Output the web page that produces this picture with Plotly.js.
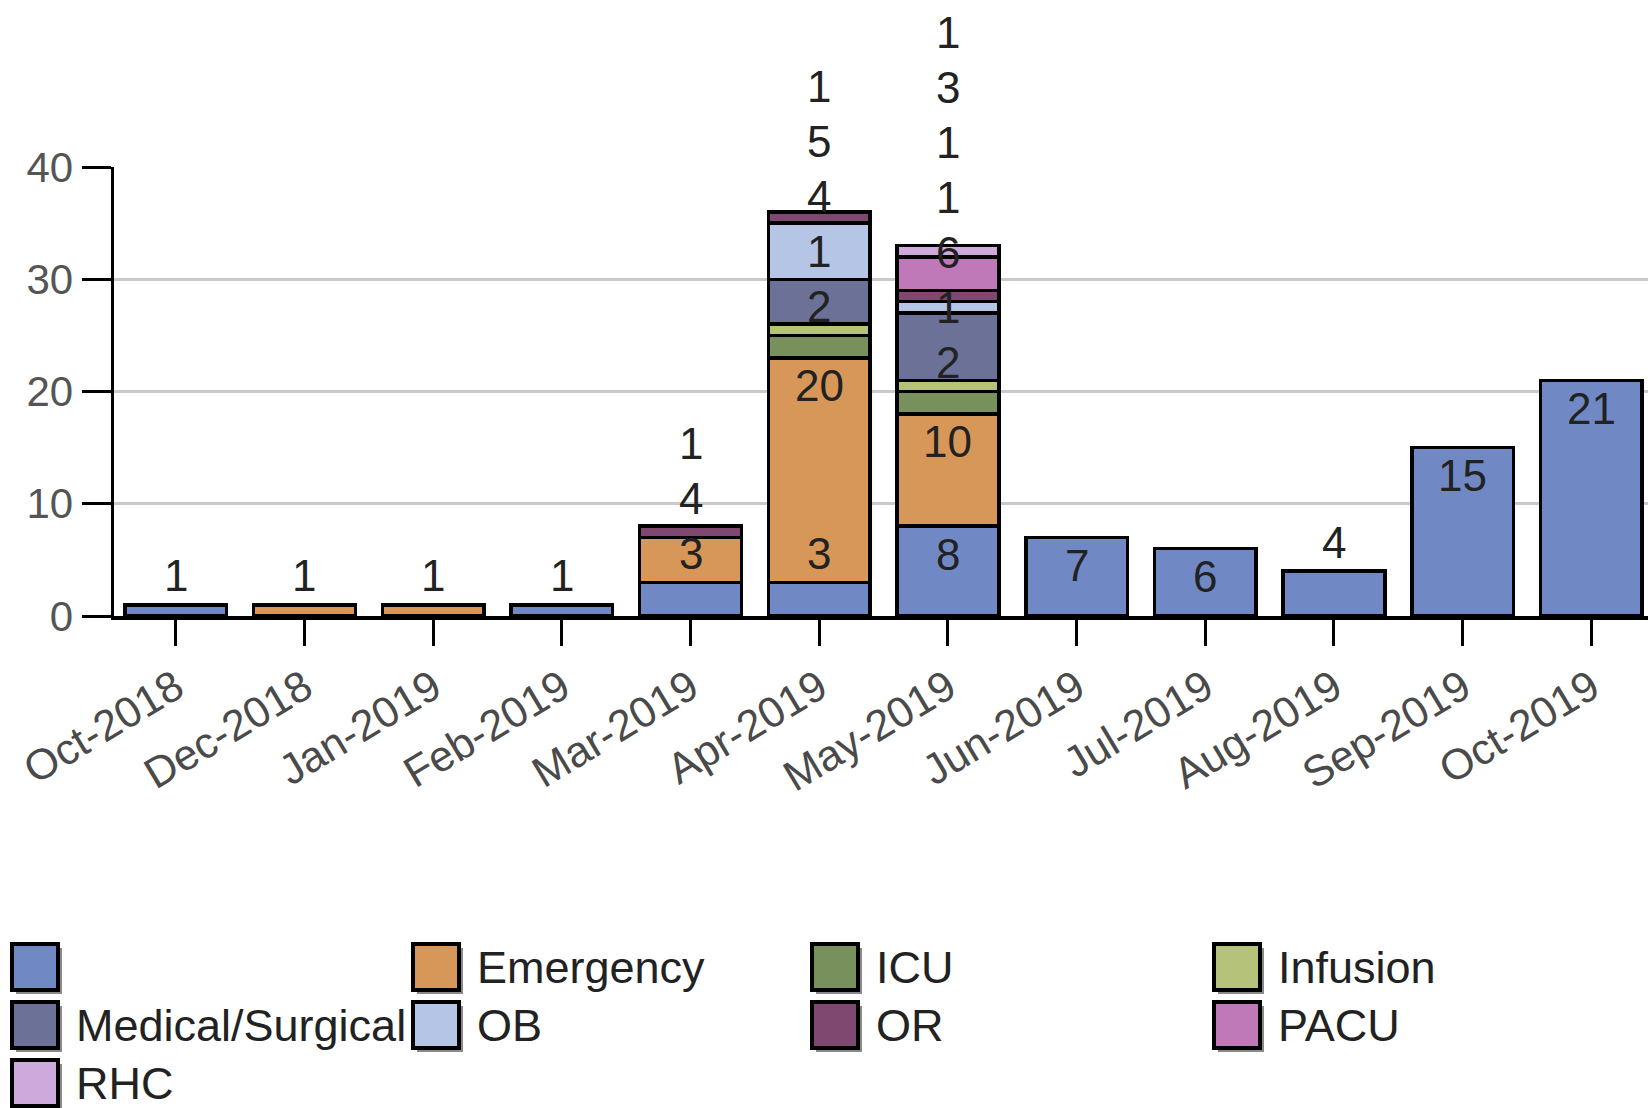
<!DOCTYPE html>
<html>
<head>
<meta charset="utf-8">
<script src="https://cdn.plot.ly/plotly-3.0.1.min.js"></script>
<style>
html,body{margin:0;padding:0;background:#fff;}
#chart{width:1648px;height:1108px;}
</style>
</head>
<body>
<div id="chart"></div>
<script>
// ---- data ----
var categories = ["Oct-2018","Dec-2018","Jan-2019","Feb-2019","Mar-2019","Apr-2019","May-2019","Jun-2019","Jul-2019","Aug-2019","Sep-2019","Oct-2019"];
var seriesNames = ["", "Emergency", "ICU", "Infusion", "Medical/Surgical", "OB", "OR", "PACU", "RHC"];
var blankVals     = [1,0,0,1,3,3,8,7,6,4,15,21];
var emergencyVals = [0,1,1,0,4,20,10,0,0,0,0,0];
var icuVals       = [0,0,0,0,0,2,2,0,0,0,0,0];
var infusionVals  = [0,0,0,0,0,1,1,0,0,0,0,0];
var medSurgVals   = [0,0,0,0,0,4,6,0,0,0,0,0];
var obVals        = [0,0,0,0,0,5,1,0,0,0,0,0];
var orVals        = [0,0,0,0,1,1,1,0,0,0,0,0];
var pacuVals      = [0,0,0,0,0,0,3,0,0,0,0,0];
var rhcVals       = [0,0,0,0,0,0,1,0,0,0,0,0];
var yTickVals = [0,10,20,30,40];

var seriesValues = [blankVals, emergencyVals, icuVals, infusionVals, medSurgVals, obVals, orVals, pacuVals, rhcVals];
var seriesColors = ["#7089c4","#d69759","#78905c","#b4c27a","#6b7197","#b5c5e5","#7e4870","#bf78b8","#cda9dc"];

// ---- layout geometry ----
var W = 1648, H = 1108;
var L = 114, R = 0, T = 167, B = 492;
var plotW = W - L - R, plotH = H - T - B;
var yMax = 40;
var unitPx = plotH / yMax;
var FONT = "Liberation Sans, Arial, sans-serif";

// ---- traces ----
var traces = seriesNames.map(function(name, i){
  return {
    type: "bar",
    name: name,
    x: categories,
    y: seriesValues[i].map(function(v){ return v > 0 ? v : null; }),
    marker: {color: seriesColors[i], line: {color: "#000", width: 3.5}},
    hoverinfo: "none",
    showlegend: false,
    cliponaxis: false
  };
});

// ---- value labels (stacked, with collision avoidance) ----
var annotations = [];
var lineH = 55, insideOff = 28, outsideOff = 29, minInside = 52;
categories.forEach(function(cat, c){
  var base = 0, prev = -1e9;
  seriesValues.forEach(function(vals){
    var v = vals[c];
    if (!(v > 0)) return;
    var top = base + v;
    var center = (v * unitPx >= minInside) ? top * unitPx - insideOff : top * unitPx + outsideOff;
    if (center < prev + lineH) center = prev + lineH;
    prev = center;
    annotations.push({
      x: cat, y: center / plotH, xref: "x", yref: "paper",
      text: String(v), showarrow: false,
      xanchor: "center", yanchor: "middle",
      font: {family: FONT, size: 44, color: "#222"}
    });
    base = top;
  });
});

// ---- custom legend ----
var shapes = [];
var colX = [12, 413, 812, 1214];
var rowY = [967, 1025, 1083];
var sq = 46;
function px2x(px){ return (px - L) / plotW; }
function py2y(py){ return (T + plotH - py) / plotH; }
seriesNames.forEach(function(name, i){
  var cx = colX[i % 4], cy = rowY[Math.floor(i / 4)];
  var x0 = cx, x1 = cx + sq, y0 = cy - sq / 2, y1 = cy + sq / 2;
  shapes.push({type: "rect", xref: "paper", yref: "paper",
    x0: px2x(x0 + 4), x1: px2x(x1 + 4), y0: py2y(y0 + 4), y1: py2y(y1 + 4),
    fillcolor: "#8a8a8a", line: {width: 0}, layer: "above"});
  shapes.push({type: "rect", xref: "paper", yref: "paper",
    x0: px2x(x0), x1: px2x(x1), y0: py2y(y0), y1: py2y(y1),
    fillcolor: seriesColors[i], line: {color: "#000", width: 4}, layer: "above"});
  if (name) {
    annotations.push({xref: "paper", yref: "paper", x: px2x(cx + 62), y: py2y(cy),
      xanchor: "left", yanchor: "middle", text: name, showarrow: false,
      font: {family: FONT, size: 45, color: "#222"}});
  }
});

var layout = {
  width: W, height: H,
  margin: {l: L, r: R, t: T, b: B, pad: 0},
  paper_bgcolor: "#fff", plot_bgcolor: "#fff",
  barmode: "stack", bargap: 0.21,
  showlegend: false,
  font: {family: FONT, size: 44, color: "#444"},
  xaxis: {
    type: "category", range: [-0.48, 11.44],
    showline: true, linecolor: "#000", linewidth: 3.5,
    ticks: "outside", ticklen: 26, tickwidth: 3, tickcolor: "#000",
    tickangle: -31, tickfont: {family: FONT, size: 43, color: "#4a4a4a"},
    showgrid: false, zeroline: false, automargin: false, fixedrange: true
  },
  yaxis: {
    range: [0, yMax], tickvals: yTickVals, ticktext: yTickVals.map(String),
    showline: true, linecolor: "#000", linewidth: 3.5,
    ticks: "outside", ticklen: 29, tickwidth: 3, tickcolor: "#000",
    ticklabelstandoff: 0,
    tickfont: {family: FONT, size: 42, color: "#555"},
    showgrid: true, gridcolor: "#cacaca", gridwidth: 3,
    zeroline: false, automargin: false, fixedrange: true
  },
  annotations: annotations,
  shapes: shapes
};

Plotly.newPlot("chart", traces, layout, {staticPlot: true, displayModeBar: false});
</script>
</body>
</html>
